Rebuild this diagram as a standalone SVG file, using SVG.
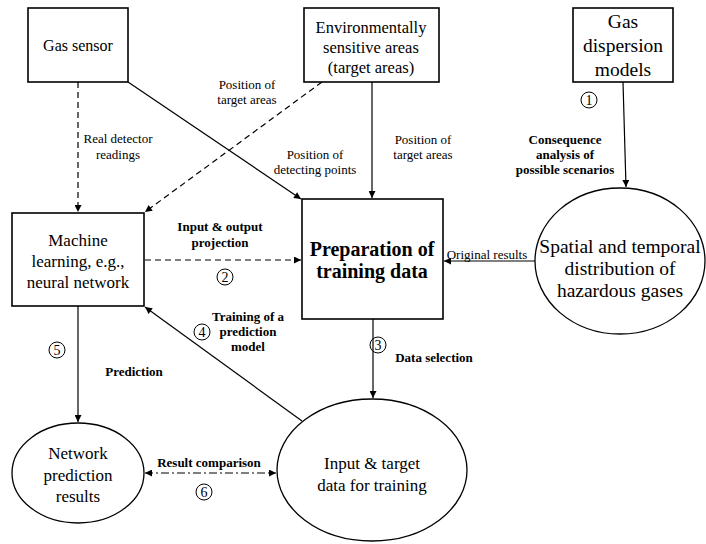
<svg xmlns="http://www.w3.org/2000/svg" width="706" height="544" viewBox="0 0 706 544">
<style>
.box{fill:#fff;stroke:#000;stroke-width:1.6}
.ell{fill:#fff;stroke:#000;stroke-width:1.3}
text{font-family:'Liberation Serif','Times New Roman',Tinos,'DejaVu Serif',serif;fill:#000;text-anchor:middle}
.n{font-size:17px}
.lb{font-size:13px}
.b{font-weight:bold}
.c{fill:none;stroke:#000;stroke-width:1.2}
.d{stroke-dasharray:6 4}
.dd{stroke-dasharray:8 3 2 3}
.num{fill:none;stroke:#000;stroke-width:1}
.dg{font-size:14px}
</style>
<defs>
<marker id="a" viewBox="0 0 10 10" refX="10" refY="5" markerWidth="8" markerHeight="7" markerUnits="userSpaceOnUse" orient="auto-start-reverse"><path d="M0,0 L10,5 L0,10 z" fill="#000"/></marker>
</defs>
<rect width="706" height="544" fill="#fff"/>
<g id="connectors">
<path class="c d" d="M78,82 V212" marker-end="url(#a)"/>
<path class="c" d="M128,82 L301,199" marker-end="url(#a)"/>
<path class="c d" d="M322,82 L145,212" marker-end="url(#a)"/>
<path class="c" d="M372,82 V198" marker-end="url(#a)"/>
<path class="c" d="M623,82 L626,187" marker-end="url(#a)"/>
<path class="c" d="M535,261 H444" marker-end="url(#a)"/>
<path class="c d" d="M145,260 H301" marker-end="url(#a)"/>
<path class="c" d="M373,319 V398" marker-end="url(#a)"/>
<path class="c" d="M302,421 L145,307" marker-end="url(#a)"/>
<path class="c" d="M78,306 V422" marker-end="url(#a)"/>
<path class="c dd" d="M145,473 H276" marker-start="url(#a)" marker-end="url(#a)"/>
</g>
<g id="labels" font-family="Liberation Serif, serif">
<text class="lb" x="247" y="89">Position of</text>
<text class="lb" x="247" y="104">target areas</text>
<text class="lb" x="118" y="143">Real detector</text>
<text class="lb" x="118" y="159">readings</text>
<text class="lb" x="315" y="159">Position of</text>
<text class="lb" x="315" y="174">detecting points</text>
<text class="lb" x="423" y="144">Position of</text>
<text class="lb" x="423" y="159">target areas</text>
<text class="lb b" x="565" y="144">Consequence</text>
<text class="lb b" x="565" y="159">analysis of</text>
<text class="lb b" x="565" y="174">possible scenarios</text>
<text class="lb b" x="220" y="231">Input &amp; output</text>
<text class="lb b" x="220" y="247">projection</text>
<text class="lb" x="487" y="259">Original results</text>
<text class="lb b" x="248" y="321">Training of a</text>
<text class="lb b" x="248" y="336">prediction</text>
<text class="lb b" x="248" y="351">model</text>
<text class="lb b" x="134" y="376">Prediction</text>
<text class="lb b" x="434" y="362">Data selection</text>
<text class="lb b" x="209" y="467">Result comparison</text>
</g>
<g id="numbers">
<circle class="num" cx="589" cy="100" r="8"/><text class="dg" x="589" y="105">1</text>
<circle class="num" cx="225" cy="277" r="8"/><text class="dg" x="225" y="282">2</text>
<circle class="num" cx="378" cy="345" r="8"/><text class="dg" x="378" y="350">3</text>
<circle class="num" cx="202" cy="332" r="8"/><text class="dg" x="202" y="337">4</text>
<circle class="num" cx="57" cy="350" r="8"/><text class="dg" x="57" y="355">5</text>
<circle class="num" cx="204" cy="492" r="8"/><text class="dg" x="204" y="497">6</text>
</g>
<g id="gas-sensor">
<rect class="box" x="28" y="8" width="100" height="74"/>
<text style="font-size:16px" x="78" y="51">Gas sensor</text>
</g>
<g id="env-areas">
<rect class="box" x="304" y="8" width="135" height="74"/>
<text style="font-size:16.5px" x="371" y="33">Environmentally</text>
<text style="font-size:16.5px" x="371" y="53">sensitive areas</text>
<text style="font-size:16.5px" x="371" y="73">(target areas)</text>
</g>
<g id="gas-dispersion">
<rect class="box" x="573" y="8" width="100" height="74"/>
<text style="font-size:19.5px" x="623" y="28">Gas</text>
<text style="font-size:19.5px" x="623" y="52">dispersion</text>
<text style="font-size:19.5px" x="623" y="76">models</text>
</g>
<g id="machine-learning">
<rect class="box" x="12" y="213" width="132" height="93"/>
<text class="n" x="78" y="246">Machine</text>
<text class="n" x="78" y="267">learning, e.g.,</text>
<text class="n" x="78" y="288">neural network</text>
</g>
<g id="preparation">
<rect class="box" x="302" y="199" width="141" height="120"/>
<text class="b" style="font-size:20px" x="372" y="256">Preparation of</text>
<text class="b" style="font-size:20px" x="372" y="278">training data</text>
</g>
<g id="spatial">
<ellipse class="ell" cx="620" cy="261" rx="85" ry="73"/>
<text style="font-size:19.5px" x="620" y="253">Spatial and temporal</text>
<text style="font-size:19.5px" x="620" y="275">distribution of</text>
<text style="font-size:19.5px" x="620" y="297">hazardous gases</text>
</g>
<g id="network-results">
<ellipse class="ell" cx="78" cy="473" rx="66" ry="50"/>
<text class="n" x="78" y="459">Network</text>
<text class="n" x="78" y="481">prediction</text>
<text class="n" x="78" y="502">results</text>
</g>
<g id="input-target">
<ellipse class="ell" cx="372" cy="470" rx="95" ry="71"/>
<text class="n" x="372" y="469">Input &amp; target</text>
<text class="n" x="372" y="491">data for training</text>
</g>
</svg>
